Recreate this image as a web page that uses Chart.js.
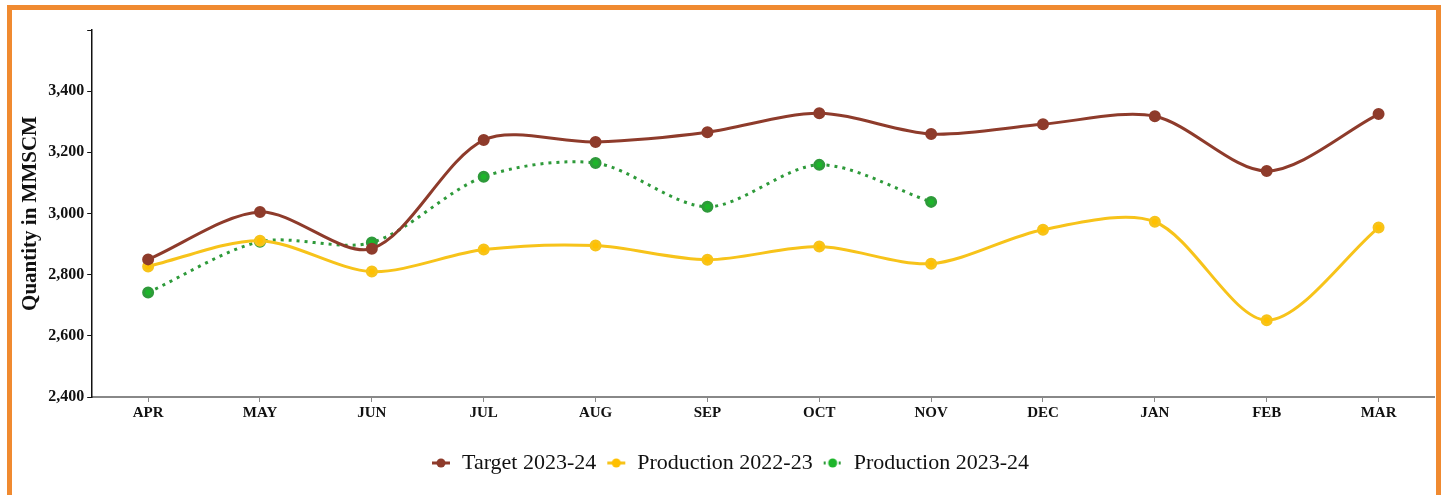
<!DOCTYPE html>
<html>
<head>
<meta charset="utf-8">
<script src="https://cdn.jsdelivr.net/npm/chart.js@4.4.0/dist/chart.umd.min.js"></script>
<style>
  html, body { margin: 0; padding: 0; background: #fff; overflow: hidden; }
  .frame {
    position: absolute; left: 7px; top: 5px; width: 1424px; height: 500px;
    border: 5px solid #F08A30; background: #fff;
  }
  .wrap { position: absolute; left: 0; top: 0; width: 1430px; height: 485px; }
</style>
</head>
<body>
<div class="frame"><div class="wrap"><canvas class="chart_main"></canvas></div></div>
<script>
const months = ["APR", "MAY", "JUN", "JUL", "AUG", "SEP", "OCT", "NOV", "DEC", "JAN", "FEB", "MAR"];
const target2324 = [2850, 3005, 2885, 3240, 3234, 3266, 3328, 3260, 3292, 3318, 3139, 3325];
const prod2223 = [2827, 2911, 2810, 2882, 2895, 2849, 2892, 2836, 2947, 2973, 2651, 2954];
const prod2324 = [2742, 2908, 2905, 3120, 3165, 3022, 3159, 3038];
const yTicks = [2400, 2600, 2800, 3000, 3200, 3400];

// little line+dot marker for the legend
function legendMark(lineColor, dotColor, dashed) {
    const c = document.createElement("canvas");
    c.width = 20; c.height = 12;
    const g = c.getContext("2d");
    g.strokeStyle = lineColor;
    g.lineWidth = 3;
    if (dashed) g.setLineDash([2, 3]);
    g.beginPath(); g.moveTo(1, 6); g.lineTo(19, 6); g.stroke();
    g.fillStyle = dotColor;
    g.beginPath(); g.arc(10, 6, 4.5, 0, Math.PI * 2); g.fill();
    return c;
}
const marks = [
    legendMark("#8E3B2B", "#8E3B2B", false),
    legendMark("#F7C31A", "#FFC000", false),
    legendMark("#2E9A3A", "#1DB52A", true)
];

const ctx = document.querySelector(".chart_main");

const chart1 = new Chart(ctx, {
    type: "line",
    data: {
        labels: months,
        datasets: [
        {
            label: "Target 2023-24",
            data: target2324,
            borderWidth: 3,
            borderColor: "#8E3B2B",
            backgroundColor: "#8E3B2B"
        },
        {
            label: "Production 2022-23",
            data: prod2223,
            borderWidth: 3,
            borderColor: "#F7C31A",
            backgroundColor: "#FFC000"
        },
        {
            label: "Production 2023-24",
            data: prod2324,
            borderWidth: 3,
            borderDash: [3, 5],
            borderColor: "#2E9A3A",
            backgroundColor: "#1DB52A"
        }
    ]
    },
    options: {
        responsive: true,
        maintainAspectRatio: false,
        animation: false,
        layout: {
            padding: { top: 20, right: 0, left: 6, bottom: 11 }
        },
        elements: {
            line: {
                tension: 0.3
            },
            point: {
                radius: 4.5,
                borderWidth: 0,
                pointStyle: "circle"
            }
        },
        plugins: {
            legend: {
                position: "bottom",
                labels: {
                    usePointStyle: true,
                    pointStyleWidth: 20,
                    color: "#111",
                    padding: 10,
                    font: { family: "Liberation Serif", size: 22 },
                    generateLabels: function (chart) {
                        return chart.data.datasets.map(function (ds, i) {
                            return {
                                text: ds.label,
                                datasetIndex: i,
                                pointStyle: marks[i],
                                fillStyle: ds.backgroundColor,
                                strokeStyle: ds.borderColor,
                                lineWidth: 0,
                                fontColor: "#111"
                            };
                        });
                    }
                }
            },
            tooltip: { enabled: false }
        },
        scales: {
            x: {
                offset: true,
                border: { color: "#888", width: 2 },
                grid: { drawOnChartArea: false, drawTicks: true, tickLength: 5, color: "#888", offset: false },
                ticks: {
                    color: "#111",
                    padding: 2,
                    font: { family: "Liberation Serif", size: 15, weight: "bold" }
                },
                afterFit: function (axis) {
                    axis.height += 18;
                }
            },
            y: {
                min: 2400,
                max: 3600,
                border: { color: "#111", width: 1.5 },
                grid: { drawOnChartArea: false, drawTicks: true, tickLength: 5, color: "#111" },
                afterBuildTicks: function (axis) {
                    axis.ticks = yTicks.concat([3600]).map(function (v) { return { value: v }; });
                },
                ticks: {
                    color: "#111",
                    padding: 3,
                    font: { family: "Liberation Serif", size: 16, weight: "bold" },
                    callback: function (v) {
                        return yTicks.indexOf(v) >= 0 ? v.toLocaleString("en-US") : "";
                    }
                },
                title: {
                    display: true,
                    text: "Quantity in MMSCM",
                    color: "#111",
                    padding: { top: 0, bottom: 2 },
                    font: { family: "Liberation Serif", size: 21, weight: "bold" }
                }
            }
        }
    }
});
</script>
</body>
</html>
